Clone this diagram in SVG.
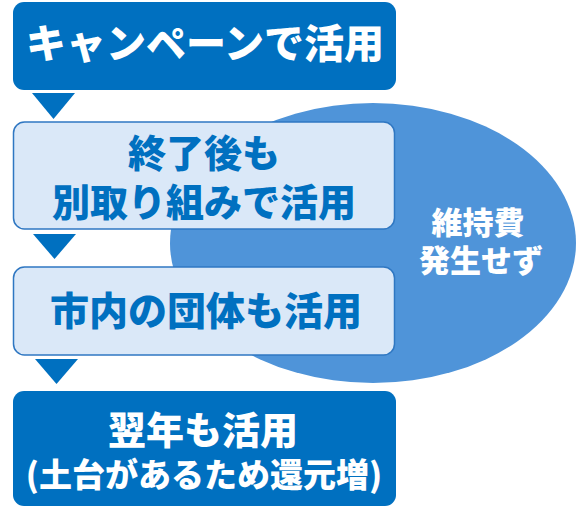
<svg xmlns="http://www.w3.org/2000/svg" width="576" height="514" viewBox="0 0 576 514">
<defs>
<style>
.dark{fill:#0070C0;}
.light{fill:#DAE8F8;stroke:#2F77C2;stroke-width:1.5;}
.arrow{fill:#0070C0;}
text{font-family:"Noto Sans CJK JP","Noto Sans CJK SC",sans-serif;font-weight:900;text-anchor:middle;}
.w{fill:#FFFFFF;}
.b{fill:#0070C0;}
</style>
</defs>
<g id="ellipse">
<ellipse cx="373" cy="243" rx="203" ry="140" fill="#4F94D9"/>
<text class="w" x="478" y="234" font-size="31">維持費</text>
<text class="w" x="481" y="272" font-size="31">発生せず</text>
</g>
<g id="connectors">
<polygon class="arrow" points="32,93 75,93 53.5,119"/>
<polygon class="arrow" points="33,234 76,234 54.5,259"/>
<polygon class="arrow" points="35,359 78,359 56.5,384"/>
</g>
<g id="node1">
<rect class="dark" x="13" y="2" width="383" height="88" rx="11"/>
<text class="w" x="205" y="58" font-size="40">キャンペーンで活用</text>
</g>
<g id="node2">
<rect class="light" x="13.5" y="122" width="381" height="107" rx="11"/>
<text class="b" x="204" y="167" font-size="38">終了後も</text>
<text class="b" x="204" y="216" font-size="38">別取り組みで活用</text>
</g>
<g id="node3">
<rect class="light" x="13.5" y="267" width="381" height="88" rx="11"/>
<text class="b" x="206" y="325" font-size="39">市内の団体も活用</text>
</g>
<g id="node4">
<rect class="dark" x="13" y="391" width="383" height="115" rx="11"/>
<text class="w" x="203" y="444" font-size="38">翌年も活用</text>
<text class="w" x="204" y="487" font-size="33">(土台があるため還元増)</text>
</g>
</svg>
